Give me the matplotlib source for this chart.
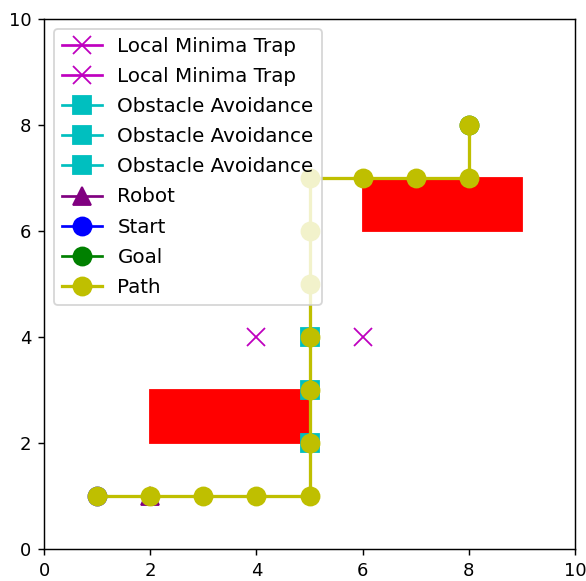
import matplotlib
matplotlib.use("Agg")
import matplotlib.pyplot as plt
from matplotlib.patches import Rectangle

# 障害物 (x, y, 幅, 高さ)
obstacles = [(2, 2, 3, 1), (6, 6, 3, 1)]

# 局所最小トラップ
traps = [(4, 4), (6, 4)]

# 障害物回避点
avoid = [(5, 2), (5, 3), (5, 4)]

robot = (2, 1)
start = (1, 1)
goal = (8, 8)

# 経路
path_x = [1, 2, 3, 4, 5, 5, 5, 5, 5, 5, 5, 6, 7, 8, 8]
path_y = [1, 1, 1, 1, 1, 2, 3, 4, 5, 6, 7, 7, 7, 7, 8]

dpi = 130
fig = plt.figure(figsize=(586/dpi, 581/dpi), dpi=dpi)
ax = fig.add_axes([44/586, 32/581, 531/586, 530/581])

for ox, oy, w, h in obstacles:
    ax.add_patch(Rectangle((ox, oy), w, h, color="r"))

for tx, ty in traps:
    ax.plot(tx, ty, "mx-", markersize=10, label="Local Minima Trap")

for axx, ayy in avoid:
    ax.plot(axx, ayy, "cs-", markersize=10, label="Obstacle Avoidance")

ax.plot(robot[0], robot[1], "^-", color="purple", markersize=10, label="Robot")
ax.plot(start[0], start[1], "bo-", markersize=10, label="Start")
ax.plot(goal[0], goal[1], "go-", markersize=10, label="Goal")
ax.plot(path_x, path_y, "yo-", markersize=10, linewidth=1.8, label="Path")

ax.set_xlim(0, 10)
ax.set_ylim(0, 10)
ax.legend(loc="upper left", fontsize=11, labelspacing=0.56)

fig.savefig("out.png", dpi=dpi)
